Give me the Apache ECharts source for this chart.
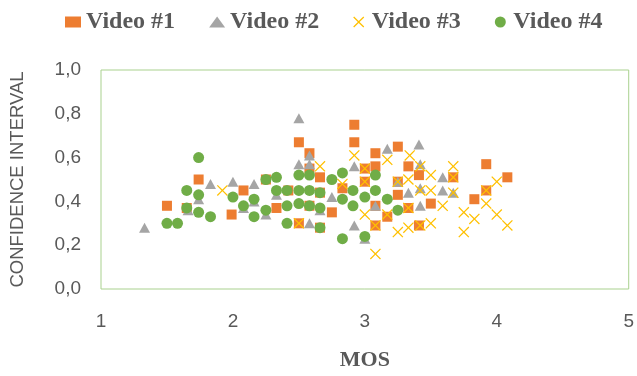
<!DOCTYPE html>
<html>
<head>
<meta charset="utf-8">
<script src="https://cdn.jsdelivr.net/npm/echarts@6/dist/echarts.min.js"></script>
<style>html,body{margin:0;padding:0;background:#fff}#c{width:637px;height:376px}</style>
</head>
<body>
<div id="c"></div>
<script>
var seriesNames = ['Video #1', 'Video #2', 'Video #3', 'Video #4'];
var xTickLabels = ['1', '2', '3', '4', '5'];
var yTickLabels = ['0,0', '0,2', '0,4', '0,6', '0,8', '1,0'];
var video1 = [[1.50,0.38],[1.74,0.50],[1.65,0.37],[1.99,0.34],[2.08,0.45],[2.25,0.50],[2.42,0.45],[2.33,0.37],[2.50,0.67],[2.58,0.62],[2.58,0.55],[2.66,0.51],[2.50,0.30],[2.58,0.38],[2.66,0.44],[2.66,0.28],[2.75,0.35],[2.83,0.46],[2.92,0.75],[2.92,0.67],[3.00,0.55],[3.00,0.49],[3.08,0.62],[3.08,0.56],[3.08,0.38],[3.08,0.29],[3.17,0.33],[3.25,0.65],[3.25,0.49],[3.25,0.43],[3.33,0.56],[3.33,0.37],[3.41,0.52],[3.41,0.29],[3.50,0.39],[3.67,0.51],[3.83,0.41],[3.92,0.57],[3.92,0.45],[4.08,0.51]];
var video2 = [[1.33,0.28],[1.83,0.48],[2.00,0.49],[2.16,0.48],[1.74,0.41],[1.66,0.36],[2.08,0.37],[2.16,0.40],[2.25,0.34],[2.50,0.78],[2.58,0.61],[2.50,0.57],[2.58,0.57],[2.75,0.42],[2.33,0.43],[2.66,0.36],[2.58,0.30],[2.92,0.56],[2.92,0.29],[3.00,0.23],[3.08,0.38],[3.17,0.64],[3.25,0.49],[3.33,0.44],[3.41,0.66],[3.42,0.57],[3.42,0.46],[3.42,0.38],[3.59,0.51],[3.59,0.45],[3.67,0.44]];
var video3 = [[1.92,0.45],[2.66,0.56],[2.50,0.30],[2.83,0.48],[2.92,0.61],[3.00,0.55],[3.00,0.49],[3.00,0.34],[3.08,0.29],[3.08,0.16],[3.17,0.59],[3.17,0.34],[3.25,0.49],[3.25,0.26],[3.34,0.61],[3.33,0.50],[3.33,0.37],[3.33,0.28],[3.42,0.56],[3.42,0.45],[3.42,0.29],[3.50,0.52],[3.50,0.45],[3.50,0.30],[3.59,0.38],[3.67,0.56],[3.67,0.51],[3.67,0.44],[3.75,0.35],[3.75,0.26],[3.83,0.32],[3.92,0.45],[3.92,0.39],[4.00,0.49],[4.00,0.34],[4.08,0.29]];
var video4 = [[1.74,0.60],[1.65,0.45],[1.74,0.43],[1.65,0.37],[1.74,0.35],[1.83,0.33],[1.50,0.30],[1.58,0.30],[2.00,0.42],[2.08,0.38],[2.16,0.41],[2.16,0.33],[2.25,0.50],[2.25,0.36],[2.33,0.51],[2.33,0.45],[2.41,0.45],[2.41,0.38],[2.41,0.30],[2.50,0.52],[2.58,0.52],[2.50,0.45],[2.58,0.45],[2.66,0.44],[2.50,0.39],[2.58,0.38],[2.66,0.37],[2.66,0.28],[2.75,0.50],[2.83,0.53],[2.83,0.41],[2.83,0.23],[2.91,0.45],[2.91,0.38],[3.00,0.42],[3.00,0.24],[3.08,0.52],[3.08,0.45],[3.17,0.41],[3.25,0.36]];

var crossPath = 'path://M0,8 L8,0 L50,42 L92,0 L100,8 L58,50 L100,92 L92,100 L50,58 L8,100 L0,92 L42,50 Z';
var colors = ['#ED7D31', '#A5A5A5', '#FFC000', '#70AD47'];
var symbols = ['rect', 'triangle', crossPath, 'circle'];
var sizes = [[10,10], [11,10], [11,11], [11,11]];
var datas = [video1, video2, video3, video4];

var chart = echarts.init(document.getElementById('c'), null, {renderer: 'canvas'});
var series = datas.map(function (d, i) {
  return {
    name: seriesNames[i],
    type: 'scatter',
    data: d,
    symbol: symbols[i],
    symbolSize: sizes[i],
    itemStyle: {color: colors[i], opacity: 1},
    z: 2 + i,
    animation: false
  };
});
chart.setOption({
  animation: false,
  backgroundColor: '#fff',
  legend: {
    top: 5,
    left: 60,
    itemGap: 34,
    itemWidth: 16,
    itemHeight: 11,
    textStyle: {fontFamily: 'Liberation Serif', fontWeight: 'bold', fontSize: 24, color: '#595959'},
    data: seriesNames.map(function (n, i) { return {name: n, icon: symbols[i]}; })
  },
  grid: {left: 97, right: 6, top: 70, bottom: 78, show: true, borderColor: '#A9D18E', borderWidth: 1},
  xAxis: {
    type: 'value', min: 1, max: 5, interval: 1,
    name: 'MOS', nameLocation: 'middle', nameGap: 60,
    nameTextStyle: {fontFamily: 'Liberation Serif', fontWeight: 'bold', fontSize: 22, color: '#595959'},
    axisLine: {show: false}, axisTick: {show: false}, splitLine: {show: false},
    axisLabel: {margin: 23, fontFamily: 'Liberation Sans', fontSize: 19, color: '#595959',
      formatter: function (v) { return xTickLabels[Math.round(v - 1)]; }}
  },
  yAxis: {
    type: 'value', min: 0, max: 1, interval: 0.2,
    name: 'CONFIDENCE INTERVAL', nameLocation: 'middle', nameGap: 74, nameRotate: 90,
    nameTextStyle: {fontFamily: 'Liberation Sans', fontSize: 18.5, color: '#595959'},
    axisLine: {show: false}, axisTick: {show: false}, splitLine: {show: false},
    axisLabel: {margin: 20, fontFamily: 'Liberation Sans', fontSize: 19, color: '#595959',
      formatter: function (v) { return yTickLabels[Math.round(v * 5)]; }}
  },
  series: series
});
</script>
</body>
</html>
